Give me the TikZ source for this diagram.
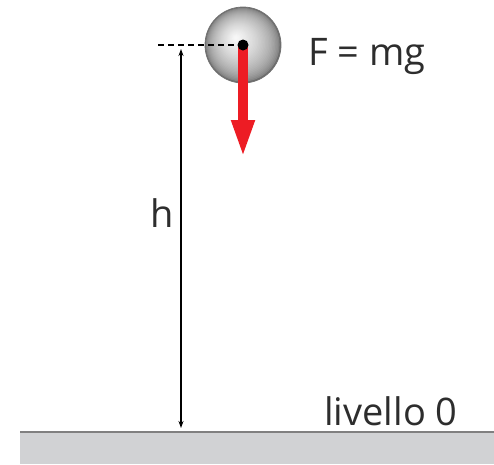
\documentclass[tikz,border=0pt]{standalone}
\usepackage{fontspec}
\setmainfont{Open Sans}
\usetikzlibrary{arrows.meta, positioning}
\definecolor{forcered}{RGB}{237,28,36}
\definecolor{textgrey}{RGB}{45,45,45}
\definecolor{groundgrey}{RGB}{209,210,212}
\definecolor{edgegrey}{RGB}{128,128,128}

\begin{document}
\begin{tikzpicture}[x=1pt,y=-1pt,
    lbl/.style={text=textgrey,inner sep=0pt,font=\fontsize{38}{40}\selectfont},
    ballnode/.style={circle,minimum size=76pt,inner sep=0pt,draw=black!55,line width=0.8pt},
    dotnode/.style={circle,fill=black,minimum size=11pt,inner sep=0pt}]
    \useasboundingbox (0,0) rectangle (494,464);

    % Ground
    \fill[groundgrey] (20,432) rectangle (494,464);
    \coordinate (groundL) at (20,432);
    \coordinate (groundR) at (494,432);
    \draw[edgegrey,line width=2pt] (groundL) -- (groundR);
    \node[lbl,anchor=base west] (level) at (324,425) {livello 0};

    % Ball: stacked circles for the grey gradient
    \coordinate (ctr) at (243,45);
    \foreach \i [evaluate=\i as \r using 38-36*\i/30,
                 evaluate=\i as \s using 7*\i/30,
                 evaluate=\i as \c using 42+55*sqrt(\i/30)] in {0,...,30} {
        \fill[white!\c!black] ([xshift=-\s pt,yshift=\s pt]ctr) circle (\r);
    }
    \node[ballnode] (ball) at (ctr) {};
    \coordinate (dashL) at (158,45);
    \coordinate (tip) at (243,158);
    \draw[forcered,line width=10pt,-{Triangle[length=38pt,width=21pt]}] (ctr) -- (tip);
    \draw[black,line width=1.6pt,dash pattern=on 6pt off 4pt] (dashL) -- (ctr);
    \node[dotnode] (cm) at (ctr) {};
    \node[lbl,anchor=base west] (force) at (308,65) {F = mg};

    % Height
    \coordinate (htop) at (181,49);
    \coordinate (hbot) at (181,428);
    \draw[black,line width=1.1pt,{Stealth[length=7pt,width=5pt]}-{Stealth[length=7pt,width=5pt]}] (htop) -- (hbot);
    \node[lbl,anchor=base west] (h) at (150,227) {h};
\end{tikzpicture}
\end{document}
